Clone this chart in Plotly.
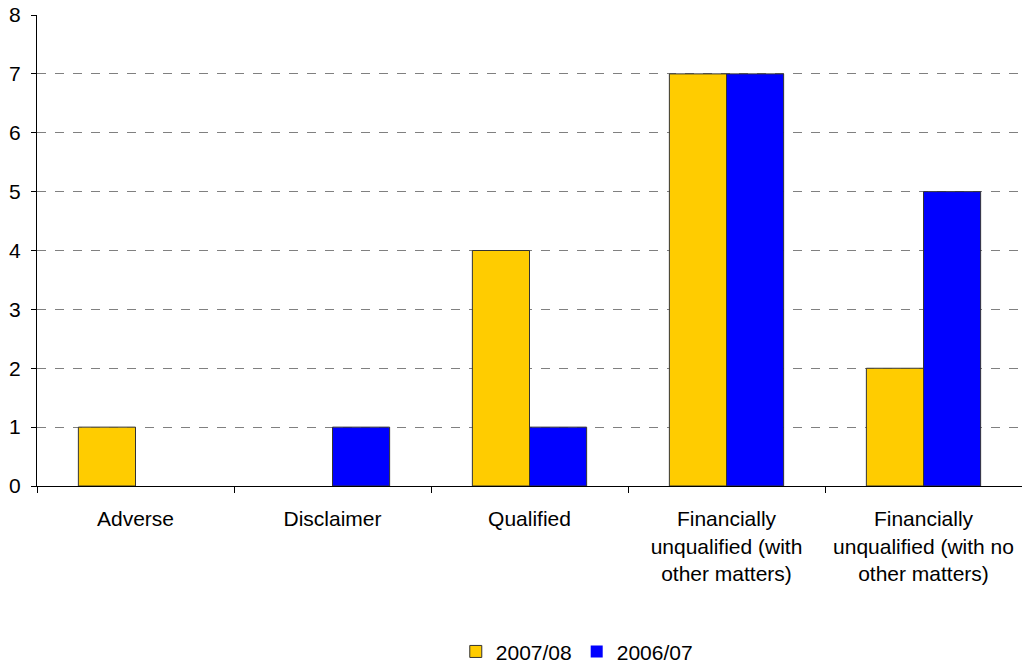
import plotly.graph_objects as go

categories = [
    "Adverse",
    "Disclaimer",
    "Qualified",
    "Financially<br>unqualified (with<br>other matters)",
    "Financially<br>unqualified (with no<br>other matters)",
]
values_2007_08 = [1, 0, 4, 7, 2]
values_2006_07 = [0, 1, 1, 7, 5]
y_ticks = [0, 1, 2, 3, 4, 5, 6, 7, 8]

FONT = "Liberation Sans, Arial, sans-serif"
SIZE = 21


def outline_widths(values):
    # empty bars get no outline so nothing shows on the baseline
    return [1 if v else 0 for v in values]


fig = go.Figure()
fig.add_trace(go.Bar(
    name="2007/08", x=categories, y=values_2007_08,
    marker=dict(color="#FFCC00",
                line=dict(color="#333333", width=outline_widths(values_2007_08))),
))
fig.add_trace(go.Bar(
    name="2006/07", x=categories, y=values_2006_07,
    marker=dict(color="#0000FF",
                line=dict(color="#333333", width=outline_widths(values_2006_07))),
))

fig.update_layout(
    barmode="group",
    bargap=0.42,
    bargroupgap=0,
    width=1022, height=663,
    margin=dict(l=37, r=0, t=15, b=177, autoexpand=False),
    paper_bgcolor="white",
    plot_bgcolor="white",
    font=dict(family=FONT, size=SIZE, color="black"),
    showlegend=True,
    legend=dict(
        orientation="h", x=0.548, xanchor="center", y=-0.352, yanchor="middle",
        font=dict(family=FONT, size=SIZE, color="black"), traceorder="normal",
    ),
)
fig.update_xaxes(
    type="category",
    tickson="boundaries",
    ticks="outside", ticklen=6, tickcolor="black",
    showline=True, linecolor="black", linewidth=1,
    showgrid=False,
    tickangle=0,
    automargin=False,
    tickfont=dict(family=FONT, size=SIZE, color="black"),
    ticklabelstandoff=14,
)
fig.update_yaxes(
    range=[0, 8.0001], tickvals=y_ticks,
    ticks="outside", ticklen=5, tickcolor="black",
    showline=True, linecolor="black", linewidth=1,
    showgrid=True, gridcolor="#808080", griddash="dash", gridwidth=1,
    zeroline=False,
    automargin=False,
    tickfont=dict(family=FONT, size=SIZE, color="black"),
    ticklabelstandoff=6,
)

fig.write_html("out.html")
